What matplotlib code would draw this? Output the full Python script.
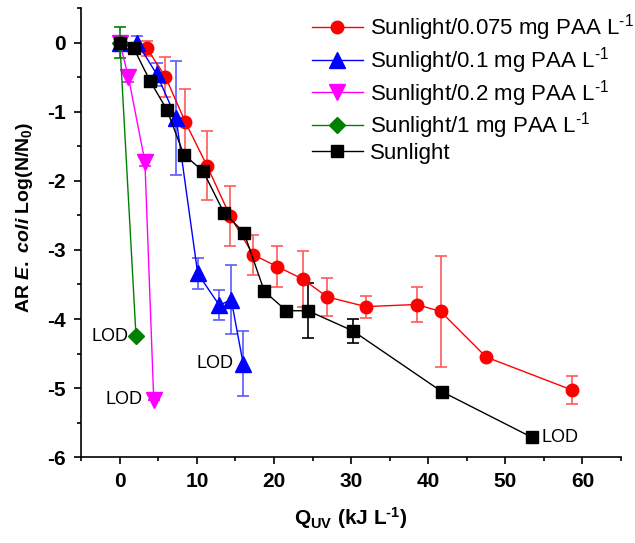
import matplotlib
matplotlib.use("Agg")
import matplotlib.pyplot as plt
from matplotlib.ticker import MultipleLocator

plt.rcParams['font.family'] = ['Liberation Sans', 'DejaVu Sans']
plt.rcParams['axes.unicode_minus'] = False
plt.rcParams['mathtext.fontset'] = 'custom'
plt.rcParams['mathtext.rm'] = 'Liberation Sans:bold'
plt.rcParams['mathtext.it'] = 'Liberation Sans:italic:bold'
plt.rcParams['mathtext.bf'] = 'Liberation Sans:bold'

# Sunlight/0.075 mg PAA L-1
red_x = [0, 3.5, 5.9, 8.5, 11.3, 14.3, 17.3, 20.4, 23.7, 26.9, 31.9, 38.5, 41.6, 47.5, 58.7]
red_y = [0, -0.08, -0.49, -1.15, -1.78, -2.51, -3.07, -3.24, -3.42, -3.68, -3.82, -3.79, -3.89, -4.55, -5.03]
red_e = [0, 0.11, 0.29, 0.48, 0.5, 0.43, 0.29, 0.29, 0.4, 0.28, 0.16, 0.25, 0.8, 0, 0.2]

# Sunlight/0.1 mg PAA L-1
blue_x = [0, 2.25, 4.8, 7.3, 10.1, 12.9, 14.45, 16.0]
blue_y = [0, 0.0, -0.46, -1.09, -3.34, -3.80, -3.72, -4.65]
blue_e = [0.05, 0.1, 0.16, 0.82, 0.22, 0.22, 0.5, 0.47]

# Sunlight/0.2 mg PAA L-1
mag_x = [0, 1.1, 3.25, 4.4]
mag_y = [0, -0.49, -1.72, -5.17]
mag_e = [0.05, 0.08, 0.06, 0]

# Sunlight/1 mg PAA L-1
green_x = [0, 2.1]
green_y = [0, -4.25]
green_e = [0.22, 0]

# Sunlight
black_x = [0, 1.8, 3.9, 6.1, 8.3, 10.8, 13.5, 16.1, 18.75, 21.6, 24.4, 30.2, 41.75, 53.4]
black_y = [0, -0.08, -0.55, -0.97, -1.62, -1.86, -2.46, -2.75, -3.60, -3.88, -3.88, -4.17, -5.05, -5.71]
black_e = [0.1, 0.04, 0, 0, 0, 0, 0, 0, 0, 0, 0.4, 0.17, 0, 0]

sup = '$^{\\mathregular{\u20101}}$'

fig = plt.figure(figsize=(6.35, 5.43), dpi=100)
ax = fig.add_axes([0.128, 0.158, 0.85, 0.827])

series = [
    (red_x, red_y, red_e, 'red', '#ff5a5a', 'o', 9, 'Sunlight/0.075 mg PAA L' + sup),
    (blue_x, blue_y, blue_e, 'blue', '#5a5aff', '^', 11, 'Sunlight/0.1 mg PAA L' + sup),
    (mag_x, mag_y, mag_e, 'magenta', 'magenta', 'v', 11, 'Sunlight/0.2 mg PAA L' + sup),
    (green_x, green_y, green_e, 'green', 'green', 'D', 8, 'Sunlight/1 mg PAA L' + sup),
    (black_x, black_y, black_e, 'black', 'black', 's', 8, 'Sunlight'),
]
handles = []
for xs, ys, es, c, ec, m, ms, lab in series:
    ax.errorbar(xs, ys, yerr=es, fmt='none', ecolor=ec, elinewidth=1.2,
                capsize=4, capthick=1.2, zorder=2)
    h, = ax.plot(xs, ys, color=c, lw=1, marker=m, ms=ms, mec=c, mfc=c,
                 label=lab, zorder=3)
    handles.append(h)

ax.text(green_x[-1] - 1.0, green_y[-1], 'LOD', ha='right', va='center', fontsize=13)
ax.text(mag_x[-1] - 1.4, mag_y[-1], 'LOD', ha='right', va='center', fontsize=13)
ax.text(blue_x[-1] - 1.2, blue_y[-1], 'LOD', ha='right', va='center', fontsize=13)
ax.text(black_x[-1] + 1.3, black_y[-1], 'LOD', ha='left', va='center', fontsize=13)

ax.set_xlim(-5, 65)
ax.set_ylim(-6, 0.5)
ax.xaxis.set_major_locator(MultipleLocator(10))
ax.xaxis.set_minor_locator(MultipleLocator(5))
ax.yaxis.set_minor_locator(MultipleLocator(0.5))
ax.set_yticks(range(-6, 1))
ax.spines['top'].set_visible(False)
ax.spines['right'].set_visible(False)
ax.tick_params(which='major', direction='out', length=5, width=1.2, labelsize=15, pad=6)
ax.tick_params(which='minor', direction='out', length=3, width=1.2)
for s in ['left', 'bottom']:
    ax.spines[s].set_linewidth(1.2)
for lbl in ax.get_xticklabels() + ax.get_yticklabels():
    lbl.set_fontweight('bold')

ax.set_xlabel('Q$_{\\mathregular{UV}}$ (kJ L' + sup + ')', fontsize=15, fontweight='bold', labelpad=10)
ax.set_ylabel('AR $\\mathit{E.}$ $\\mathit{coli}$ Log(N/N$_{\\mathregular{0}}$)', fontsize=14, fontweight='bold')
ax.yaxis.set_label_coords(-0.085, 0.535)

ax.legend(handles=handles, loc='upper right', bbox_to_anchor=(1.06, 1.035), frameon=False,
          fontsize=16, handlelength=2.3, labelspacing=0.08, handletextpad=0.3)

fig.savefig('out.png', dpi=100)
